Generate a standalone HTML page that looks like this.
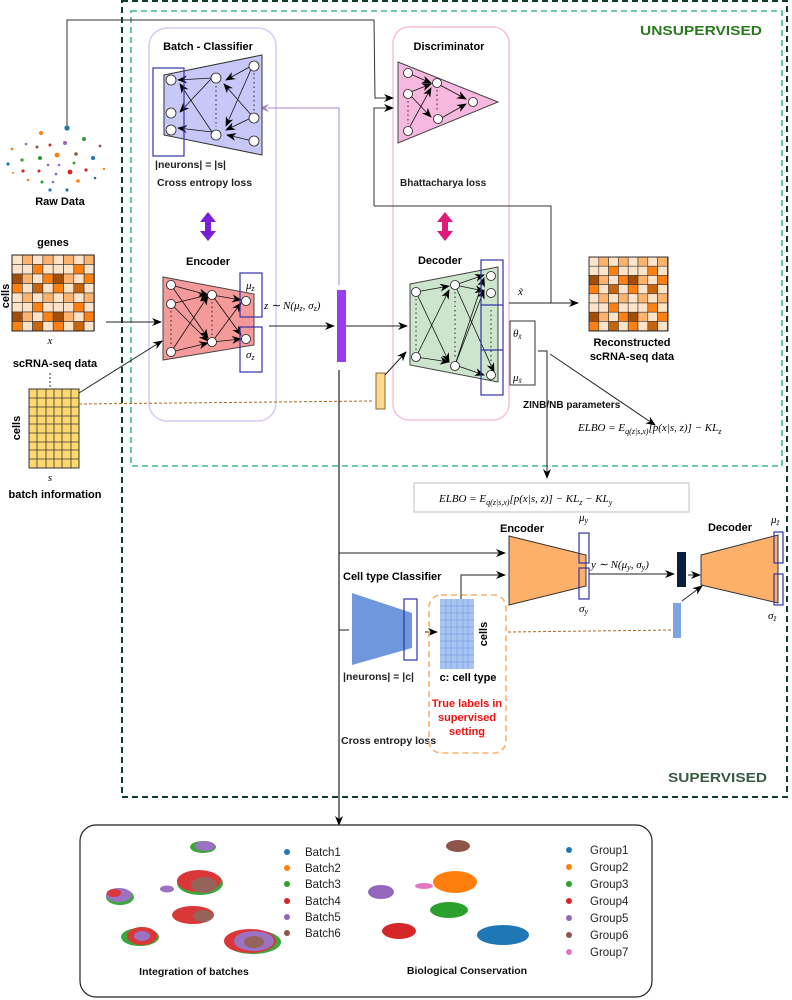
<!DOCTYPE html>
<html><head><meta charset="utf-8"><style>
body{margin:0;background:#fff}
svg{display:block;font-family:"Liberation Sans",sans-serif}
.b{font-weight:bold;font-size:11px}
.m{font-family:"Liberation Serif",serif;font-style:italic;font-size:11px}
</style></head><body>
<svg width="792" height="1000" viewBox="0 0 792 1000" xmlns="http://www.w3.org/2000/svg">
<defs>
<marker id="ar" markerWidth="10" markerHeight="8" refX="9" refY="4" orient="auto" markerUnits="userSpaceOnUse"><path d="M0,0 L10,4 L0,8 L3,4z" fill="#000"/></marker>
<marker id="arp" markerWidth="10" markerHeight="8" refX="1" refY="4" orient="auto-start-reverse" markerUnits="userSpaceOnUse"><path d="M0,0 L10,4 L0,8 L3,4z" fill="#a98ac9"/></marker>
<g id="mat">
<g stroke="#333" stroke-width="0.6">
<rect x="0" y="0" width="10" height="10" fill="#fde3c8"/><rect x="10" y="0" width="10" height="10" fill="#fdb36e"/><rect x="20" y="0" width="10" height="10" fill="#fde3c8"/><rect x="30" y="0" width="10" height="10" fill="#fdb36e"/><rect x="40" y="0" width="10" height="10" fill="#fde3c8"/><rect x="50" y="0" width="10" height="10" fill="#fdb36e"/><rect x="60" y="0" width="10" height="10" fill="#fde3c8"/><rect x="70" y="0" width="10" height="10" fill="#fdb36e"/>
<rect x="0" y="10" width="10" height="10" fill="#fde3c8"/><rect x="10" y="10" width="10" height="10" fill="#fde3c8"/><rect x="20" y="10" width="10" height="10" fill="#fd8010"/><rect x="30" y="10" width="10" height="10" fill="#fde3c8"/><rect x="40" y="10" width="10" height="10" fill="#fde3c8"/><rect x="50" y="10" width="10" height="10" fill="#fde3c8"/><rect x="60" y="10" width="10" height="10" fill="#fd8010"/><rect x="70" y="10" width="10" height="10" fill="#fde3c8"/>
<rect x="0" y="20" width="10" height="10" fill="#a34e08"/><rect x="10" y="20" width="10" height="10" fill="#fdb36e"/><rect x="20" y="20" width="10" height="10" fill="#fde3c8"/><rect x="30" y="20" width="10" height="10" fill="#fd8010"/><rect x="40" y="20" width="10" height="10" fill="#a34e08"/><rect x="50" y="20" width="10" height="10" fill="#fdb36e"/><rect x="60" y="20" width="10" height="10" fill="#fde3c8"/><rect x="70" y="20" width="10" height="10" fill="#fd8010"/>
<rect x="0" y="30" width="10" height="10" fill="#fd8010"/><rect x="10" y="30" width="10" height="10" fill="#fde3c8"/><rect x="20" y="30" width="10" height="10" fill="#c8650c"/><rect x="30" y="30" width="10" height="10" fill="#fde3c8"/><rect x="40" y="30" width="10" height="10" fill="#fd8010"/><rect x="50" y="30" width="10" height="10" fill="#fde3c8"/><rect x="60" y="30" width="10" height="10" fill="#c8650c"/><rect x="70" y="30" width="10" height="10" fill="#fde3c8"/>
<rect x="0" y="40" width="10" height="10" fill="#fde3c8"/><rect x="10" y="40" width="10" height="10" fill="#fdb36e"/><rect x="20" y="40" width="10" height="10" fill="#fde3c8"/><rect x="30" y="40" width="10" height="10" fill="#fdb36e"/><rect x="40" y="40" width="10" height="10" fill="#fde3c8"/><rect x="50" y="40" width="10" height="10" fill="#fdb36e"/><rect x="60" y="40" width="10" height="10" fill="#fde3c8"/><rect x="70" y="40" width="10" height="10" fill="#fdb36e"/>
<rect x="0" y="50" width="10" height="10" fill="#fde3c8"/><rect x="10" y="50" width="10" height="10" fill="#fde3c8"/><rect x="20" y="50" width="10" height="10" fill="#fd8010"/><rect x="30" y="50" width="10" height="10" fill="#fde3c8"/><rect x="40" y="50" width="10" height="10" fill="#fde3c8"/><rect x="50" y="50" width="10" height="10" fill="#fde3c8"/><rect x="60" y="50" width="10" height="10" fill="#fd8010"/><rect x="70" y="50" width="10" height="10" fill="#fde3c8"/>
<rect x="0" y="60" width="10" height="10" fill="#a34e08"/><rect x="10" y="60" width="10" height="10" fill="#fdb36e"/><rect x="20" y="60" width="10" height="10" fill="#fde3c8"/><rect x="30" y="60" width="10" height="10" fill="#fd8010"/><rect x="40" y="60" width="10" height="10" fill="#a34e08"/><rect x="50" y="60" width="10" height="10" fill="#fdb36e"/><rect x="60" y="60" width="10" height="10" fill="#fde3c8"/><rect x="70" y="60" width="10" height="10" fill="#fd8010"/>
<rect x="0" y="70" width="10" height="10" fill="#fd8010"/><rect x="10" y="70" width="10" height="10" fill="#fde3c8"/><rect x="20" y="70" width="10" height="10" fill="#c8650c"/><rect x="30" y="70" width="10" height="10" fill="#fde3c8"/><rect x="40" y="70" width="10" height="10" fill="#fd8010"/><rect x="50" y="70" width="10" height="10" fill="#fde3c8"/><rect x="60" y="70" width="10" height="10" fill="#c8650c"/><rect x="70" y="70" width="10" height="10" fill="#fde3c8"/>
</g></g>
</defs>

<rect x="122" y="1" width="665" height="796" fill="none" stroke="#0f3d26" stroke-width="2" stroke-dasharray="6,4"/>
<rect x="131" y="11" width="651" height="455" fill="none" stroke="#3dbb8c" stroke-width="1.6" stroke-dasharray="6,4"/>
<text x="640" y="35" font-size="13" font-weight="bold" fill="#2a7a1e" textLength="122" lengthAdjust="spacingAndGlyphs">UNSUPERVISED</text>
<text x="668" y="782" font-size="13" font-weight="bold" fill="#3a5a48" textLength="99" lengthAdjust="spacingAndGlyphs">SUPERVISED</text>

<rect x="149" y="28" width="127" height="393" rx="18" fill="none" stroke="#d9c8f5" stroke-width="1.5"/>
<rect x="393" y="27" width="116" height="393" rx="16" fill="none" stroke="#f7c2dc" stroke-width="1.5"/>

<polyline points="67,128 67,20 374,20 375,98 393,98" fill="none" stroke="#333" stroke-width="1" marker-end="url(#ar)"/>
<polyline points="374,206 374,108 393,108" fill="none" stroke="#333" stroke-width="1" marker-end="url(#ar)"/>
<polyline points="374,206 551,206 551,303" fill="none" stroke="#333" stroke-width="1"/>
<polyline points="339,285 339,108 268,108" fill="none" stroke="#a98ac9" stroke-width="1" marker-end="url(#arp)"/>

<g>
<circle cx="67" cy="128" r="2.6" fill="#1f77b4"/><circle cx="41" cy="133" r="2" fill="#ff7f0e"/><circle cx="84" cy="139" r="2" fill="#2ca02c"/><circle cx="65" cy="143" r="2" fill="#9467bd"/><circle cx="50" cy="145" r="1.5" fill="#d62728"/><circle cx="26" cy="144" r="1.3" fill="#9467bd"/><circle cx="37" cy="147" r="1.5" fill="#8c564b"/><circle cx="100" cy="146" r="1.4" fill="#8c564b"/><circle cx="12" cy="149" r="1.4" fill="#ff7f0e"/><circle cx="57" cy="155" r="2.4" fill="#ff7f0e"/><circle cx="76" cy="154" r="1.8" fill="#8c564b"/><circle cx="40" cy="158" r="2" fill="#2ca02c"/><circle cx="22" cy="160" r="1.6" fill="#2ca02c"/><circle cx="93" cy="158" r="2" fill="#1f77b4"/><circle cx="8" cy="164" r="1.6" fill="#1f77b4"/><circle cx="48" cy="165" r="1.3" fill="#9467bd"/><circle cx="59" cy="165" r="1.3" fill="#9467bd"/><circle cx="74" cy="163" r="1.4" fill="#2ca02c"/><circle cx="23" cy="171" r="1.6" fill="#d62728"/><circle cx="39" cy="171" r="1.5" fill="#d62728"/><circle cx="70" cy="172" r="2.4" fill="#d62728"/><circle cx="86" cy="170" r="1.6" fill="#d62728"/><circle cx="56" cy="174" r="1.4" fill="#9467bd"/><circle cx="104" cy="169" r="1.2" fill="#ff7f0e"/><circle cx="13" cy="173" r="1" fill="#ff7f0e"/><circle cx="28" cy="180" r="1.3" fill="#ff7f0e"/><circle cx="42" cy="182" r="1.5" fill="#2ca02c"/><circle cx="53" cy="182" r="1.3" fill="#9467bd"/><circle cx="78" cy="181" r="1.8" fill="#ff7f0e"/><circle cx="95" cy="178" r="1.3" fill="#1f77b4"/><circle cx="50" cy="190" r="1.6" fill="#1f77b4"/><circle cx="67" cy="190" r="1.6" fill="#1f77b4"/>
</g>
<text x="60" y="205" text-anchor="middle" class="b">Raw Data</text>

<text x="53" y="246" text-anchor="middle" class="b">genes</text>
<g transform="translate(12,255) scale(1.03,0.95)"><use href="#mat"/></g>
<rect x="12" y="255" width="82" height="76" fill="none" stroke="#222" stroke-width="1"/>
<text transform="translate(9,296) rotate(-90)" text-anchor="middle" class="b">cells</text>
<text x="50" y="344" class="m" text-anchor="middle">x</text>
<text x="55" y="367" text-anchor="middle" class="b">scRNA-seq data</text>
<line x1="50" y1="373" x2="50" y2="392" stroke="#333" stroke-dasharray="2,2"/>
<rect x="29" y="389" width="50" height="79" fill="#fdd870" stroke="#333"/>
<g stroke="#333" stroke-width="0.8">
<line x1="37" y1="389" x2="37" y2="468"/><line x1="46" y1="389" x2="46" y2="468"/><line x1="54" y1="389" x2="54" y2="468"/><line x1="62" y1="389" x2="62" y2="468"/><line x1="71" y1="389" x2="71" y2="468"/>
<line x1="29" y1="398" x2="79" y2="398"/><line x1="29" y1="407" x2="79" y2="407"/><line x1="29" y1="416" x2="79" y2="416"/><line x1="29" y1="424" x2="79" y2="424"/><line x1="29" y1="433" x2="79" y2="433"/><line x1="29" y1="442" x2="79" y2="442"/><line x1="29" y1="450" x2="79" y2="450"/><line x1="29" y1="459" x2="79" y2="459"/>
</g>
<text transform="translate(20,428) rotate(-90)" text-anchor="middle" class="b">cells</text>
<text x="50" y="481" class="m" text-anchor="middle">s</text>
<text x="55" y="498" text-anchor="middle" class="b">batch information</text>

<line x1="106" y1="322" x2="161" y2="322" stroke="#222" marker-end="url(#ar)"/>
<line x1="79" y1="393" x2="162" y2="341" stroke="#222" marker-end="url(#ar)"/>
<line x1="79" y1="404" x2="373" y2="401" stroke="#b5651d" stroke-dasharray="3,2"/>

<text x="208" y="50" text-anchor="middle" class="b">Batch - Classifier</text>
<polygon points="164,75 262,55 262,155 164,135" fill="#c8c8f8" stroke="#333"/>
<g stroke="#111" stroke-width="0.8" fill="none" marker-end="url(#ar)">
<line x1="212" y1="78" x2="178" y2="80"/><line x1="212" y1="78" x2="180" y2="112"/><line x1="212" y1="132" x2="178" y2="128"/><line x1="212" y1="132" x2="180" y2="84"/>
<line x1="253" y1="65" x2="226" y2="80"/><line x1="253" y1="65" x2="226" y2="126"/><line x1="253" y1="117" x2="224" y2="84"/><line x1="253" y1="141" x2="227" y2="135"/><line x1="253" y1="117" x2="226" y2="130"/>
</g>
<g fill="#fff" stroke="#222" stroke-width="0.8">
<circle cx="171" cy="80" r="5"/><circle cx="171" cy="113" r="5"/><circle cx="171" cy="130" r="5"/>
<circle cx="216" cy="78" r="5"/><circle cx="216" cy="135" r="5"/>
<circle cx="254" cy="66" r="5"/><circle cx="254" cy="118" r="5"/><circle cx="254" cy="141" r="5"/>
</g>
<line x1="216" y1="86" x2="216" y2="127" stroke="#222" stroke-dasharray="1.5,3"/>
<line x1="254" y1="73" x2="254" y2="111" stroke="#222" stroke-dasharray="1.5,3"/>
<rect x="153" y="68" width="31" height="88" fill="none" stroke="#3333aa" stroke-width="1.2"/>
<text x="155" y="168" font-size="10.5" font-weight="bold" fill="#222">|neurons| = |s|</text>
<text x="157" y="186" font-size="10.5" font-weight="bold" fill="#222">Cross entropy loss</text>
<path d="M208,212 L200,222 L205,222 L205,231 L200,231 L208,241 L216,231 L211,231 L211,222 L216,222 Z" fill="#7a1fd6"/>
<path d="M445,212 L437,222 L442,222 L442,231 L437,231 L445,241 L453,231 L448,231 L448,222 L453,222 Z" fill="#e0197a"/>

<text x="208" y="265" text-anchor="middle" class="b" font-size="11.5">Encoder</text>
<polygon points="163,277 254,294 254,345 163,360" fill="#f59a9a" stroke="#444"/>
<g stroke="#111" stroke-width="0.8" marker-end="url(#ar)">
<line x1="171" y1="285" x2="208" y2="295"/><line x1="171" y1="304" x2="208" y2="295"/><line x1="171" y1="304" x2="208" y2="341"/><line x1="171" y1="285" x2="208" y2="338"/><line x1="171" y1="352" x2="208" y2="296"/><line x1="171" y1="352" x2="208" y2="343"/>
<line x1="212" y1="295" x2="241" y2="300"/><line x1="212" y1="342" x2="241" y2="339"/><line x1="212" y1="295" x2="241" y2="335"/><line x1="212" y1="342" x2="241" y2="303"/>
</g>
<g fill="#fff" stroke="#222" stroke-width="0.8">
<circle cx="171" cy="285" r="4.5"/><circle cx="171" cy="304" r="4.5"/><circle cx="171" cy="352" r="4.5"/>
<circle cx="212" cy="295" r="4.5"/><circle cx="212" cy="342" r="4.5"/>
<circle cx="246" cy="301" r="4.5"/><circle cx="246" cy="339" r="4.5"/>
</g>
<line x1="171" y1="311" x2="171" y2="345" stroke="#222" stroke-dasharray="1.5,3"/>
<line x1="212" y1="302" x2="212" y2="335" stroke="#222" stroke-dasharray="1.5,3"/>
<rect x="240" y="273" width="22" height="44" fill="none" stroke="#3333aa" stroke-width="1.2"/>
<rect x="240" y="327" width="22" height="45" fill="none" stroke="#3333aa" stroke-width="1.2"/>
<text x="246" y="289" class="m">μ<tspan font-size="8" dy="2">z</tspan></text>
<text x="246" y="358" class="m">σ<tspan font-size="8" dy="2">z</tspan></text>
<text x="264" y="309" class="m" font-size="11">z ∼ N(μ<tspan font-size="8" dy="2">z</tspan><tspan dy="-2">, σ</tspan><tspan font-size="8" dy="2">z</tspan><tspan dy="-2">)</tspan></text>
<line x1="269" y1="326" x2="334" y2="326" stroke="#222" marker-end="url(#ar)"/>
<rect x="337" y="290" width="9" height="72" fill="#9a3df0"/>
<line x1="346" y1="326" x2="407" y2="326" stroke="#222" marker-end="url(#ar)"/>
<line x1="339" y1="370" x2="339" y2="825" stroke="#222" stroke-width="1.2" marker-end="url(#ar)"/>

<text x="449" y="50" text-anchor="middle" class="b">Discriminator</text>
<polygon points="398,62 498,102 398,143" fill="#f7b8df" stroke="#444"/>
<g stroke="#111" stroke-width="0.8" marker-end="url(#ar)">
<line x1="408" y1="73" x2="431" y2="83"/><line x1="408" y1="93" x2="431" y2="84"/><line x1="408" y1="93" x2="431" y2="117"/><line x1="408" y1="130" x2="431" y2="88"/><line x1="438" y1="120" x2="466" y2="104"/><line x1="438" y1="84" x2="466" y2="99"/>
</g>
<g fill="#fff" stroke="#222" stroke-width="0.8">
<circle cx="408" cy="73" r="4.5"/><circle cx="408" cy="94" r="4.5"/><circle cx="408" cy="131" r="4.5"/>
<circle cx="437" cy="83" r="4.5"/><circle cx="438" cy="119" r="4.5"/><circle cx="473" cy="102" r="4.5"/>
</g>
<line x1="408" y1="101" x2="408" y2="124" stroke="#222" stroke-dasharray="1.5,3"/>
<line x1="437" y1="90" x2="437" y2="112" stroke="#222" stroke-dasharray="1.5,3"/>
<text x="400" y="186" font-size="10" font-weight="bold" fill="#222">Bhattacharya loss</text>

<text x="440" y="264" text-anchor="middle" class="b" font-size="11.5">Decoder</text>
<polygon points="410,284 498,267 498,382 410,365" fill="#cde5cd" stroke="#444"/>
<g stroke="#111" stroke-width="0.8" marker-end="url(#ar)">
<line x1="416" y1="292" x2="449" y2="286"/><line x1="416" y1="292" x2="449" y2="362"/><line x1="416" y1="357" x2="449" y2="290"/><line x1="416" y1="357" x2="449" y2="362"/>
<line x1="455" y1="285" x2="484" y2="275"/><line x1="455" y1="285" x2="484" y2="291"/><line x1="455" y1="285" x2="494" y2="372"/><line x1="455" y1="365" x2="484" y2="290"/><line x1="455" y1="365" x2="484" y2="375"/><line x1="455" y1="365" x2="484" y2="278"/>
</g>
<g fill="#fff" stroke="#222" stroke-width="0.8">
<circle cx="416" cy="292" r="4.5"/><circle cx="416" cy="357" r="4.5"/>
<circle cx="455" cy="285" r="4.5"/><circle cx="455" cy="366" r="4.5"/>
<circle cx="491" cy="276" r="4.5"/><circle cx="491" cy="293" r="4.5"/><circle cx="491" cy="375" r="4.5"/>
</g>
<line x1="416" y1="299" x2="416" y2="350" stroke="#222" stroke-dasharray="1.5,3"/>
<line x1="455" y1="292" x2="455" y2="359" stroke="#222" stroke-dasharray="1.5,3"/>
<line x1="491" y1="310" x2="491" y2="368" stroke="#222" stroke-dasharray="1.5,3"/>
<rect x="481" y="260" width="22" height="135" fill="none" stroke="#3333aa" stroke-width="1.2"/>
<line x1="481" y1="305" x2="503" y2="305" stroke="#3333aa" stroke-width="1.2"/>
<line x1="481" y1="350" x2="503" y2="350" stroke="#3333aa" stroke-width="1.2"/>
<rect x="376" y="373" width="9" height="36" fill="#fdd88e" stroke="#8a6a2a"/>
<line x1="385" y1="375" x2="406" y2="352" stroke="#222" marker-end="url(#ar)"/>
<text x="518" y="295" class="m">x̃</text>
<line x1="509" y1="303" x2="578" y2="303" stroke="#222" marker-end="url(#ar)"/>
<rect x="510" y="321" width="25" height="64" fill="none" stroke="#333"/>
<text x="513" y="337" class="m" font-size="10">θ<tspan font-size="7" dy="2">x̃</tspan></text>
<text x="513" y="381" class="m" font-size="10">μ<tspan font-size="7" dy="2">x̃</tspan></text>
<polyline points="538,351 547,351 547,478" fill="none" stroke="#222" marker-end="url(#ar)"/>
<line x1="550" y1="354" x2="655" y2="425" stroke="#222" marker-end="url(#ar)"/>
<text x="523" y="408" font-size="10" font-weight="bold" fill="#111">ZINB/NB parameters</text>

<g transform="translate(589,257) scale(0.98,0.92)"><use href="#mat"/></g>
<rect x="589" y="257" width="79" height="74" fill="none" stroke="#333"/>
<text x="632" y="346" text-anchor="middle" class="b">Reconstructed</text>
<text x="632" y="360" text-anchor="middle" class="b">scRNA-seq data</text>

<text x="578" y="431" class="m" font-size="11.5">ELBO = E<tspan font-size="8" dy="3">q(z|s,x)</tspan><tspan dy="-3">[p(x|s, z)] − KL</tspan><tspan font-size="8" dy="3">z</tspan></text>

<rect x="414" y="483" width="275" height="29" fill="#fff" stroke="#ccc" stroke-width="1.2"/>
<text x="439" y="502" class="m" font-size="12">ELBO = E<tspan font-size="8" dy="3">q(z|s,x)</tspan><tspan dy="-3">[p(x|s, z)] − KL</tspan><tspan font-size="8" dy="3">z</tspan><tspan dy="-3"> − KL</tspan><tspan font-size="8" dy="3">y</tspan></text>

<text x="522" y="532" text-anchor="middle" class="b" font-size="11.5">Encoder</text>
<polygon points="509,536 586,555 586,586 509,605" fill="#fdb06a" stroke="#333"/>
<rect x="579" y="533" width="10" height="30" fill="none" stroke="#3333aa" stroke-width="1.2"/>
<rect x="579" y="568" width="10" height="31" fill="none" stroke="#3333aa" stroke-width="1.2"/>
<text x="579" y="521" class="m">μ<tspan font-size="8" dy="2">y</tspan></text>
<text x="579" y="612" class="m">σ<tspan font-size="8" dy="2">y</tspan></text>
<text x="591" y="568" class="m" font-size="11">y ∼ N(μ<tspan font-size="8" dy="2">y</tspan><tspan dy="-2">, σ</tspan><tspan font-size="8" dy="2">y</tspan><tspan dy="-2">)</tspan></text>
<line x1="589" y1="574" x2="674" y2="574" stroke="#222" marker-end="url(#ar)"/>
<rect x="677" y="552" width="9" height="35" fill="#0c1e3e"/>
<line x1="688" y1="575" x2="700" y2="575" stroke="#222" marker-end="url(#ar)"/>
<text x="730" y="531" text-anchor="middle" class="b" font-size="11.5">Decoder</text>
<polygon points="701,555 778,535 778,603 701,585" fill="#fdb06a" stroke="#333"/>
<rect x="774" y="532" width="9" height="31" fill="none" stroke="#3333aa" stroke-width="1.2"/>
<rect x="774" y="574" width="9" height="31" fill="none" stroke="#3333aa" stroke-width="1.2"/>
<text x="771" y="523" class="m">μ<tspan font-size="7" dy="2">z̃</tspan></text>
<text x="768" y="619" class="m">σ<tspan font-size="7" dy="2">z̃</tspan></text>
<rect x="673" y="603" width="8" height="35" fill="#7ba5e0"/>
<line x1="682" y1="601" x2="702" y2="586" stroke="#222" marker-end="url(#ar)"/>
<line x1="508" y1="632" x2="673" y2="630" stroke="#b5651d" stroke-dasharray="3,2"/>

<line x1="339" y1="553" x2="505" y2="553" stroke="#222" marker-end="url(#ar)"/>
<line x1="339" y1="630" x2="349" y2="630" stroke="#222"/>
<text x="343" y="580" class="b" font-size="11">Cell type Classifier</text>
<polygon points="352,593 412,613 412,648 352,665" fill="#6f98dc"/>
<rect x="404" y="599" width="13" height="61" fill="none" stroke="#3333aa" stroke-width="1.2"/>
<text x="343" y="680" font-size="10.5" font-weight="bold" fill="#222">|neurons| = |c|</text>
<text x="341" y="744" font-size="10.5" font-weight="bold" fill="#222">Cross entropy loss</text>
<line x1="425" y1="632" x2="437" y2="632" stroke="#222" marker-end="url(#ar)"/>
<rect x="429" y="595" width="77" height="158" rx="12" fill="none" stroke="#fdb06a" stroke-width="1.6" stroke-dasharray="6,4"/>
<rect x="440" y="599" width="34" height="70" fill="#a8c4f2"/>
<g stroke="#7ba5e0" stroke-width="0.8">
<line x1="446" y1="599" x2="446" y2="669"/><line x1="451" y1="599" x2="451" y2="669"/><line x1="457" y1="599" x2="457" y2="669"/><line x1="463" y1="599" x2="463" y2="669"/><line x1="468" y1="599" x2="468" y2="669"/>
<line x1="440" y1="606" x2="474" y2="606"/><line x1="440" y1="613" x2="474" y2="613"/><line x1="440" y1="620" x2="474" y2="620"/><line x1="440" y1="627" x2="474" y2="627"/><line x1="440" y1="634" x2="474" y2="634"/><line x1="440" y1="641" x2="474" y2="641"/><line x1="440" y1="648" x2="474" y2="648"/><line x1="440" y1="655" x2="474" y2="655"/><line x1="440" y1="662" x2="474" y2="662"/>
</g>
<text transform="translate(487,634) rotate(-90)" text-anchor="middle" class="b" font-size="10">cells</text>
<text x="468" y="681" text-anchor="middle" class="b" font-size="11">c: cell type</text>
<text x="467" y="707" text-anchor="middle" font-size="11" font-weight="bold" fill="#f01010">True labels in</text>
<text x="467" y="721" text-anchor="middle" font-size="11" font-weight="bold" fill="#f01010">supervised</text>
<text x="467" y="735" text-anchor="middle" font-size="11" font-weight="bold" fill="#f01010">setting</text>
<polyline points="461,599 461,575 505,575" fill="none" stroke="#222" marker-end="url(#ar)"/>

<rect x="80" y="825" width="572" height="172" rx="16" fill="#fff" stroke="#222" stroke-width="1.2"/>
<g opacity="0.92">
<ellipse cx="203" cy="847" rx="13" ry="6" fill="#2ca02c"/><ellipse cx="205" cy="846" rx="10" ry="5" fill="#9467bd"/>
<ellipse cx="200" cy="883" rx="23" ry="12" fill="#2ca02c"/><ellipse cx="199" cy="881" rx="22" ry="11" fill="#d62728"/><ellipse cx="204" cy="885" rx="13" ry="8" fill="#8c564b"/>
<ellipse cx="167" cy="889" rx="7" ry="3.5" fill="#9467bd"/>
<ellipse cx="120" cy="897" rx="14" ry="8" fill="#2ca02c"/><ellipse cx="119" cy="895" rx="13" ry="7" fill="#9467bd"/><ellipse cx="114" cy="893" rx="7" ry="4" fill="#d62728"/>
<ellipse cx="193" cy="915" rx="21" ry="9" fill="#d62728"/><ellipse cx="203" cy="916" rx="10" ry="6" fill="#8c564b"/>
<ellipse cx="140" cy="937" rx="19" ry="9" fill="#2ca02c"/><ellipse cx="142" cy="936" rx="15" ry="9" fill="#d62728"/><ellipse cx="142" cy="936" rx="8" ry="5" fill="#9467bd"/>
<ellipse cx="253" cy="942" rx="28" ry="12" fill="#2ca02c"/><ellipse cx="250" cy="941" rx="26" ry="12" fill="#d62728"/><ellipse cx="254" cy="941" rx="20" ry="10" fill="#9467bd"/><ellipse cx="254" cy="942" rx="10" ry="6" fill="#8c564b"/>
</g>
<text x="194" y="975" text-anchor="middle" font-size="10.5" font-weight="bold" fill="#111">Integration of batches</text>
<g font-size="11.5" fill="#222">
<circle cx="287" cy="852" r="3" fill="#1f77b4"/><text x="305" y="856">Batch1</text>
<circle cx="287" cy="868" r="3" fill="#ff7f0e"/><text x="305" y="872">Batch2</text>
<circle cx="287" cy="884" r="3" fill="#2ca02c"/><text x="305" y="888">Batch3</text>
<circle cx="287" cy="901" r="3" fill="#d62728"/><text x="305" y="905">Batch4</text>
<circle cx="287" cy="917" r="3" fill="#9467bd"/><text x="305" y="921">Batch5</text>
<circle cx="287" cy="933" r="3" fill="#8c564b"/><text x="305" y="937">Batch6</text>
</g>
<ellipse cx="458" cy="846" rx="12" ry="6" fill="#8c564b"/>
<ellipse cx="455" cy="882" rx="22" ry="11" fill="#ff7f0e"/>
<ellipse cx="424" cy="886" rx="9" ry="3" fill="#e377c2"/>
<ellipse cx="381" cy="892" rx="13" ry="7" fill="#9467bd"/>
<ellipse cx="449" cy="910" rx="19" ry="8" fill="#2ca02c"/>
<ellipse cx="399" cy="931" rx="17" ry="8" fill="#d62728"/>
<ellipse cx="503" cy="935" rx="26" ry="10" fill="#1f77b4"/>
<text x="467" y="974" text-anchor="middle" font-size="10.5" font-weight="bold" fill="#111">Biological Conservation</text>
<g font-size="11.5" fill="#222">
<circle cx="569" cy="850" r="3" fill="#1f77b4"/><text x="590" y="854">Group1</text>
<circle cx="569" cy="867" r="3" fill="#ff7f0e"/><text x="590" y="871">Group2</text>
<circle cx="569" cy="884" r="3" fill="#2ca02c"/><text x="590" y="888">Group3</text>
<circle cx="569" cy="901" r="3" fill="#d62728"/><text x="590" y="905">Group4</text>
<circle cx="569" cy="918" r="3" fill="#9467bd"/><text x="590" y="922">Group5</text>
<circle cx="569" cy="935" r="3" fill="#8c564b"/><text x="590" y="939">Group6</text>
<circle cx="569" cy="952" r="3" fill="#e377c2"/><text x="590" y="956">Group7</text>
</g>
</svg>
</body></html>
